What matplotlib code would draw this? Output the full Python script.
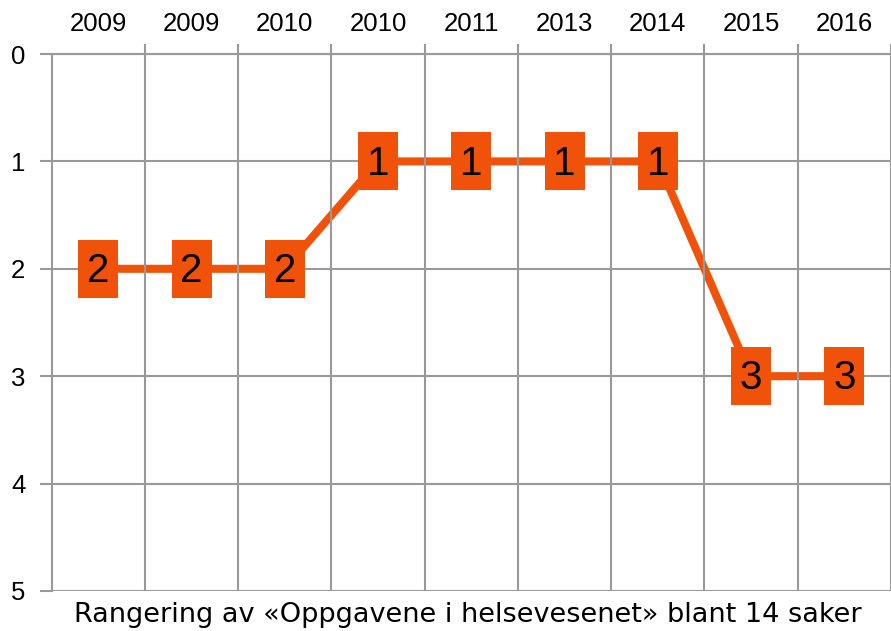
import numpy as np
import matplotlib.pyplot as plt
from matplotlib.path import Path

# rangering per år
years = ['2009', '2009', '2010', '2010', '2011', '2013', '2014', '2015', '2016']
ranks = [2, 2, 2, 1, 1, 1, 1, 3, 3]
title = 'Rangering av «Oppgavene i helsevesenet» blant 14 saker'

orange = '#f0520a'
grey = '#999999'

fig = plt.figure(figsize=(8.91, 6.31), dpi=100)
ax = fig.add_axes([51.7/891, 1 - 591/631, 1 - 51.7/891, (591 - 54)/631])

x = np.arange(len(years))

# rectangular marker, taller than wide
w = 40/58/2
box = Path([(-w, -0.5), (w, -0.5), (w, 0.5), (-w, 0.5), (-w, -0.5)],
           [Path.MOVETO, Path.LINETO, Path.LINETO, Path.LINETO, Path.CLOSEPOLY])

# vertical grid goes over the line, boxes over everything
ax.plot(x, ranks, color=orange, lw=5.8, zorder=1)
ax.plot(x, ranks, ls='none', marker=box, markersize=42,
        markerfacecolor=orange, markeredgewidth=0, zorder=3)
for xi, r in zip(x, ranks):
    ax.text(xi, r + 0.02, str(r), ha='center', va='center', fontsize=29,
            family='Liberation Sans', color='black', zorder=4)

ax.set_xlim(-0.5, (891 - 51.7)/94.33 - 0.5)
ax.set_ylim(5, 0)

ax.xaxis.tick_top()
ax.set_xticks(x)
ax.set_xticklabels(years, family='Liberation Sans', fontsize=18.5)
ax.set_xticks(np.arange(len(years)) + 0.5, minor=True)
ax.tick_params(axis='x', which='major', length=0, pad=13)
ax.tick_params(axis='x', which='minor', length=7, width=1.5, color=grey)
ax.set_yticks(range(6))
ax.set_yticklabels([str(i) for i in range(6)], family='Liberation Sans', fontsize=18.5)
ax.tick_params(axis='y', length=9, width=1.5, color=grey, pad=10)

ax.grid(True, which='minor', axis='x', color=grey, lw=1.5)
ax.grid(True, which='major', axis='y', color=grey, lw=1.5)
ax.xaxis.set_zorder(2)
ax.yaxis.set_zorder(0.5)

for s in ['right', 'bottom']:
    ax.spines[s].set_visible(False)
for s in ['left', 'top']:
    ax.spines[s].set_color(grey)
    ax.spines[s].set_linewidth(1.5)

fig.text(468/891, 1 - 615/631, title, ha='center', va='center', fontsize=19.5,
         family='DejaVu Sans')

fig.savefig('out.png', dpi=100)
